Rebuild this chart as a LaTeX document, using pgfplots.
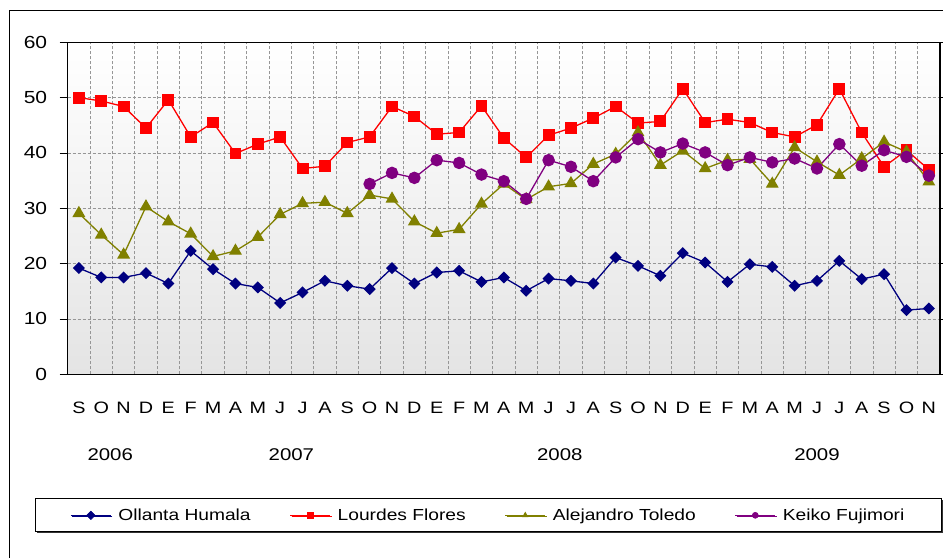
\documentclass[border=0pt]{standalone}
\usepackage{pgfplots}
\pgfplotsset{compat=1.18}
\usepackage{fontspec}
\setmainfont[FakeStretch=1.2]{Liberation Sans}
\usetikzlibrary{shadows}

\definecolor{navy}{RGB}{0,0,128}
\definecolor{olivec}{RGB}{128,128,0}
\definecolor{purp}{RGB}{128,0,128}
\definecolor{bgbot}{RGB}{228,228,228}
\definecolor{gridc}{RGB}{150,150,150}

\begin{document}
\begin{tikzpicture}[x=1pt,y=1pt]
\begin{axis}[
    name=main,
    scale only axis, width=872.3pt, height=332pt,
    xmin=-0.5, xmax=38.5, ymin=0, ymax=60,
    xtick={0,...,38},
    xticklabels={S,O,N,D,E,F,M,A,M,J,J,A,S,O,N,D,E,F,M,A,M,J,J,A,S,O,N,D,E,F,M,A,M,J,J,A,S,O,N},
    minor xtick={-0.5,0.5,...,38.5},
    ytick={0,10,...,60},
    xminorgrids=true, ymajorgrids=true,
    grid style={gridc, dash pattern=on 3pt off 2pt, line width=0.8pt},
    minor grid style={gridc, dash pattern=on 3pt off 2pt, line width=0.8pt},
    tick align=outside, major tick length=8pt, minor tick length=0pt,
    xtick style={draw=none},
    ytick style={black, line width=0.8pt},
    axis line style={line width=1.2pt},
    /pgf/number format/assume math mode=true,
    xticklabel style={font=\fontsize{16.5}{16.5}\selectfont, anchor=base, yshift=-31pt},
    yticklabel style={font=\fontsize{17.5}{17.5}\selectfont, xshift=-9pt},
    axis background/.style={top color=white, bottom color=bgbot},
    clip=false,
    legend columns=4,
    legend style={at={(0.4823,-0.4247)}, anchor=center, draw=black, line width=0.8pt,
        font=\fontsize{16}{16}\selectfont,
        drop shadow={shadow xshift=1.5pt, shadow yshift=-1.5pt, fill=black!80, opacity=1},
        inner xsep=35pt, inner ysep=8pt,
        /tikz/every odd column/.append style={column sep=5pt},
        /tikz/every even column/.append style={column sep=37pt}},
    legend image code/.code={
        \draw[#1, mark=none, line width=1pt] (0pt,0pt) -- (40pt,0pt);
        \draw[#1, line width=0.6pt, mark size=3pt] plot coordinates {(20pt,0pt)};
    },
]

\addplot[navy, line width=1.3pt, mark=square*, mark size=3.6pt, mark options={rotate=45}] coordinates {
    (0,19.2) (1,17.5) (2,17.5) (3,18.3) (4,16.4) (5,22.3) (6,19.0) (7,16.4) (8,15.7) (9,12.9)
    (10,14.8) (11,16.9) (12,16.0) (13,15.4) (14,19.2) (15,16.4) (16,18.4) (17,18.7) (18,16.7) (19,17.5)
    (20,15.1) (21,17.3) (22,16.9) (23,16.4) (24,21.1) (25,19.6) (26,17.8) (27,21.9) (28,20.2) (29,16.7)
    (30,19.9) (31,19.4) (32,16.0) (33,16.9) (34,20.5) (35,17.2) (36,18.1) (37,11.6) (38,11.9)
};
\addlegendentry{Ollanta Humala}

\addplot[red, line width=1.3pt, mark=square*, mark size=5.3pt] coordinates {
    (0,50.0) (1,49.4) (2,48.4) (3,44.5) (4,49.6) (5,42.9) (6,45.5) (7,39.9) (8,41.6) (9,42.9)
    (10,37.2) (11,37.6) (12,41.9) (13,42.9) (14,48.4) (15,46.6) (16,43.4) (17,43.7) (18,48.5) (19,42.7)
    (20,39.2) (21,43.2) (22,44.5) (23,46.3) (24,48.4) (25,45.4) (26,45.7) (27,51.6) (28,45.5) (29,46.1)
    (30,45.5) (31,43.7) (32,42.9) (33,45.1) (34,51.6) (35,43.7) (36,37.5) (37,40.5) (38,37.0)
};
\addlegendentry{Lourdes Flores}

\addplot[olivec, line width=1.3pt, mark=triangle*, mark size=6.2pt] coordinates {
    (0,29.1) (1,25.2) (2,21.6) (3,30.3) (4,27.6) (5,25.4) (6,21.3) (7,22.3) (8,24.8) (9,28.9)
    (10,30.9) (11,31.1) (12,29.1) (13,32.4) (14,31.7) (15,27.6) (16,25.5) (17,26.2) (18,30.8) (19,34.4)
    (20,31.6) (21,33.9) (22,34.5) (23,38.0) (24,39.8) (25,43.7) (26,37.8) (27,40.4) (28,37.2) (29,38.7)
    (30,38.9) (31,34.4) (32,41.0) (33,38.4) (34,36.0) (35,39.0) (36,42.0) (37,40.2) (38,34.8)
};
\addlegendentry{Alejandro Toledo}

\addplot[purp, line width=1.3pt, mark=*, mark size=5.6pt] coordinates {
    (13,34.4) (14,36.4) (15,35.5) (16,38.7) (17,38.2) (18,36.1) (19,34.9)
    (20,31.7) (21,38.7) (22,37.5) (23,34.9) (24,39.2) (25,42.5) (26,40.1) (27,41.7) (28,40.1) (29,37.8)
    (30,39.2) (31,38.3) (32,39.0) (33,37.2) (34,41.6) (35,37.7) (36,40.5) (37,39.3) (38,35.9)
};
\addlegendentry{Keiko Fujimori}

% year labels
\node[anchor=base, font=\fontsize{17}{17}\selectfont] at (axis cs:1.4,-15.6) {2006};
\node[anchor=base, font=\fontsize{17}{17}\selectfont] at (axis cs:9.5,-15.6) {2007};
\node[anchor=base, font=\fontsize{17}{17}\selectfont] at (axis cs:21.5,-15.6) {2008};
\node[anchor=base, font=\fontsize{17}{17}\selectfont] at (axis cs:33.0,-15.6) {2009};
\end{axis}

% page origin relative to the plot area corner
\path (main.south west) ++(-67.7,-183.7) coordinate (O);
% outer chart frame
\draw[line width=0.8pt] ([shift={(9,0)}]O) -- ([shift={(9,548)}]O) -- ([shift={(943,548)}]O);

\pgfresetboundingbox
\useasboundingbox (O) rectangle ([shift={(943,558)}]O);
\end{tikzpicture}
\end{document}
